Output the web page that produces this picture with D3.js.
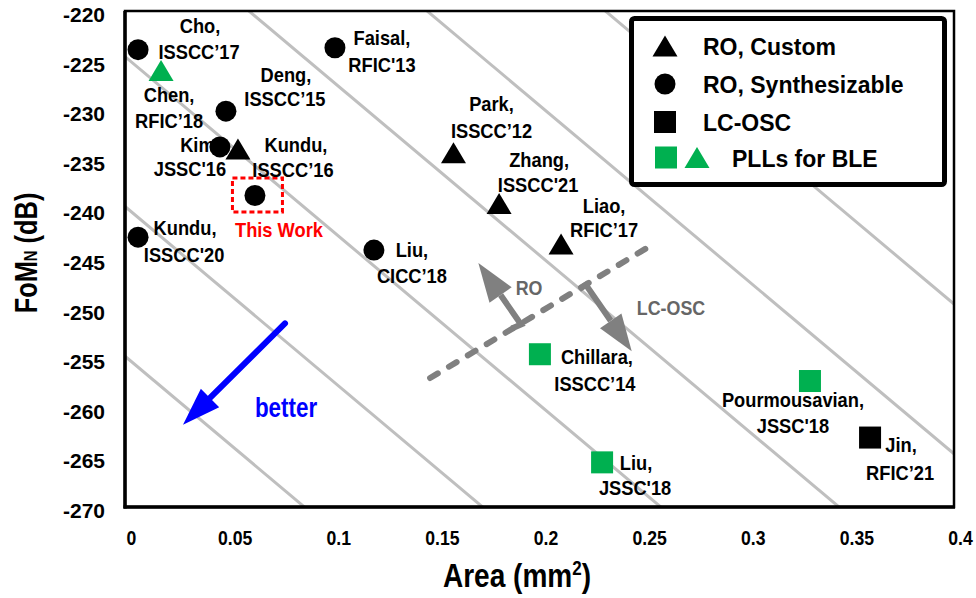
<!DOCTYPE html>
<html>
<head>
<meta charset="utf-8">
<script src="https://cdn.jsdelivr.net/npm/d3@7"></script>
<style>
  body { margin: 0; background: #fff; }
  svg { display: block; }
  text { font-family: "Liberation Sans", Arial, Helvetica, sans-serif; font-weight: bold; }
</style>
</head>
<body>
<svg id="chart" width="976" height="598"></svg>
<script>
// ---- Survey of oscillators / PLLs: normalized FoM vs. core area ----
const refNames  = ["Cho", "Chen", "Faisal", "Deng", "Kim", "Kundu", "This Work", "Kundu",
                   "Liu", "Park", "Zhang", "Liao", "Chillara", "Liu", "Pourmousavian", "Jin"];
const refVenues = ["ISSCC\u201917", "RFIC\u201918", "RFIC'13", "ISSCC\u201915", "JSSC'16", "ISSCC\u201916", "",
                   "ISSCC'20", "CICC\u201918", "ISSCC\u201912", "ISSCC'21", "RFIC\u201917", "ISSCC\u201914",
                   "JSSC'18", "JSSC'18", "RFIC\u201921"];
// oscillator class of each reference
const refClass  = ["roSynth", "bleTri", "roSynth", "roSynth", "roSynth", "roCustom", "roSynth", "roSynth",
                   "roSynth", "roCustom", "roCustom", "roCustom", "bleSq", "bleSq", "bleSq", "lcOsc"];
const refArea   = [0.0063, 0.0174, 0.1013, 0.0487, 0.0458, 0.0545, 0.0627, 0.0063,
                   0.1201, 0.1585, 0.1805, 0.2104, 0.2002, 0.2302, 0.3305, 0.3595];
const refFoM    = [-223.9, -226.0, -223.7, -230.1, -233.7, -233.9, -238.6, -242.8,
                   -244.1, -234.3, -239.4, -243.5, -254.6, -265.5, -257.3, -263.0];

const xTicks = [0, 0.05, 0.1, 0.15, 0.2, 0.25, 0.3, 0.35, 0.4];
const xTickLabels = ["0", "0.05", "0.1", "0.15", "0.2", "0.25", "0.3", "0.35", "0.4"];
const yTicks = [-220, -225, -230, -235, -240, -245, -250, -255, -260, -265, -270];

// constant-figure-of-merit guide lines: FoM = intercept + slope * area
const guideIntercepts = [-254.8, -239.7, -224.6, -209.5, -194.4, -179.3];
const guideSlope = -175.6;

// RO / LC-OSC boundary and the "better" direction, in (area, FoM)
const boundaryLine = [[0.1472, -257.0], [0.2557, -243.4]];
const roArrow      = [[0.1866, -252.0], [0.1911, -251.6], [0.1705, -245.4]];
const lcArrow      = [[0.2192, -248.05], [0.2224, -247.6], [0.2445, -254.3]];
const betterArrow  = [[0.0772, -251.5], [0.0280, -261.7]];

const legendLabels = ["RO, Custom", "RO, Synthesizable", "LC-OSC", "PLLs for BLE"];

// ---- layout ----
const W = 976, H = 598;
const plot = { left: 125, right: 954, top: 11, bottom: 507 };
const GREEN = "#00b050", GRAY = "#808080", GUIDE = "#bfbfbf";

// label offsets from each marker: [dx1, dy1, dx2, dy2] (second line = venue)
const labelOffsets = [
  [62, -17, 61, 9], [8, 31, 8, 57], [47, -3, 47, 24], [60, -29, 59, -5],
  [-20, 5, -30, 29], [58, 3, 55, 28], [24, 41, 0, 0], [47, -2, 46, 25],
  [38, 7, 38, 33], [38, -42, 38, -15], [40, -36, 39, -11], [43, -31, 43, -7],
  [57, 10, 55, 37], [34, 8, 33, 33], [-17, 26, -17, 52], [31, 14, 30, 42]
];

const svg = d3.select("#chart");
const x = d3.scaleLinear().domain([0, 0.4]).range([plot.left, plot.right]);
const y = d3.scaleLinear().domain([-270, -220]).range([plot.bottom, plot.top]);

function addText(g, str, px, py, opt) {
  const o = Object.assign({ size: 21, fill: "#000", anchor: "middle", sx: 1, rot: 0 }, opt || {});
  const t = g.append("text")
    .attr("transform", `translate(${px},${py})` + (o.rot ? ` rotate(${o.rot})` : "") + ` scale(${o.sx},1)`)
    .attr("text-anchor", o.anchor)
    .attr("font-size", o.size)
    .attr("fill", o.fill);
  if (str !== null) t.text(str);
  return t;
}

// clip for the plotting area
svg.append("defs").append("clipPath").attr("id", "plotClip")
  .append("rect")
  .attr("x", plot.left).attr("y", plot.top)
  .attr("width", plot.right - plot.left).attr("height", plot.bottom - plot.top);

// ---- guide lines ----
const guides = svg.append("g").attr("clip-path", "url(#plotClip)");
guides.selectAll("line").data(guideIntercepts).join("line")
  .attr("x1", x(0)).attr("y1", b => y(b))
  .attr("x2", x(0.4)).attr("y2", b => y(b + guideSlope * 0.4))
  .attr("stroke", GUIDE).attr("stroke-width", 3);

// ---- axis frame ----
svg.append("rect")
  .attr("x", plot.left).attr("y", plot.top)
  .attr("width", plot.right - plot.left).attr("height", plot.bottom - plot.top)
  .attr("fill", "none").attr("stroke", "#000").attr("stroke-width", 2.5);
svg.append("line").attr("x1", plot.left).attr("x2", plot.left)
  .attr("y1", plot.top).attr("y2", plot.bottom + 1.5)
  .attr("stroke", "#000").attr("stroke-width", 3.5);
svg.append("line").attr("x1", plot.left - 1.5).attr("x2", plot.right + 1)
  .attr("y1", plot.bottom).attr("y2", plot.bottom)
  .attr("stroke", "#000").attr("stroke-width", 3.5);

// ---- tick labels ----
const axisG = svg.append("g");
yTicks.forEach(v => addText(axisG, String(v), 105, y(v) + 11, { size: 21, anchor: "end" }));
xTicks.forEach((v, i) => addText(axisG, xTickLabels[i], x(v) + 6.5, 545, { size: 21, sx: 0.84 }));

// axis titles
const xt = addText(axisG, null, 517, 587, { size: 33, sx: 0.85 });
xt.append("tspan").text("Area (mm");
xt.append("tspan").attr("font-size", 20).attr("dy", -12).text("2");
xt.append("tspan").attr("dy", 12).text(")");

const yt = addText(axisG, null, 37, 253, { size: 31, sx: 0.82, rot: -90 });
yt.append("tspan").text("FoM");
yt.append("tspan").attr("font-size", 18).text("N");
yt.append("tspan").text(" (dB)");

// ---- annotations: RO / LC boundary, direction arrows ----
const ann = svg.append("g");
ann.append("line")
  .attr("x1", x(boundaryLine[0][0])).attr("y1", y(boundaryLine[0][1]))
  .attr("x2", x(boundaryLine[1][0])).attr("y2", y(boundaryLine[1][1]))
  .attr("stroke", GRAY).attr("stroke-width", 6)
  .attr("stroke-dasharray", "9,13").attr("stroke-linecap", "round");

function arrow(g, pts, color, shaftW, headLen, headHalf, cap) {
  const p = pts.map(d => [x(d[0]), y(d[1])]);
  const tip = p[p.length - 1], prev = p[p.length - 2];
  const dx = tip[0] - prev[0], dy = tip[1] - prev[1];
  const L = Math.hypot(dx, dy), ux = dx / L, uy = dy / L;
  const base = [tip[0] - ux * headLen, tip[1] - uy * headLen];
  const shaft = p.slice(0, -1).concat([base]);
  g.append("path")
    .attr("d", d3.line()(shaft))
    .attr("fill", "none").attr("stroke", color).attr("stroke-width", shaftW)
    .attr("stroke-linecap", cap || "butt").attr("stroke-linejoin", "miter");
  const nx = -uy, ny = ux;
  g.append("path")
    .attr("d", d3.line()([tip,
      [base[0] + nx * headHalf, base[1] + ny * headHalf],
      [base[0] - nx * headHalf, base[1] - ny * headHalf]]) + "Z")
    .attr("fill", color);
}
arrow(ann, roArrow, GRAY, 6, 39, 13.5);
arrow(ann, lcArrow, GRAY, 6, 37, 13);
arrow(ann, betterArrow, "#0000ff", 6, 38, 13, "round");

addText(ann, "RO", 529, 295, { size: 21, sx: 0.85, fill: "#666" });
addText(ann, "LC-OSC", 671, 315, { size: 21, sx: 0.85, fill: "#666" });
addText(ann, "better", 286, 417, { size: 28, sx: 0.8, fill: "#0000ff" });

// ---- markers ----
const markerStyle = {
  roCustom: { shape: "tri", fill: "#000" },
  roSynth:  { shape: "circle", fill: "#000" },
  lcOsc:    { shape: "sq", fill: "#000" },
  bleSq:    { shape: "sq", fill: GREEN },
  bleTri:   { shape: "tri", fill: GREEN }
};
function drawMarker(g, shape, cx, cy, fill) {
  if (shape === "circle") {
    g.append("circle").attr("cx", cx).attr("cy", cy).attr("r", 10.5).attr("fill", fill);
  } else if (shape === "sq") {
    g.append("rect").attr("x", cx - 11).attr("y", cy - 11).attr("width", 22).attr("height", 22).attr("fill", fill);
  } else {
    g.append("path")
      .attr("d", `M${cx},${cy - 10.5}L${cx + 12.5},${cy + 10.5}L${cx - 12.5},${cy + 10.5}Z`)
      .attr("fill", fill);
  }
}
const marks = svg.append("g");
refArea.forEach((a, i) => {
  const s = markerStyle[refClass[i]];
  drawMarker(marks, s.shape, x(a), y(refFoM[i]), s.fill);
});

// highlight box around this work
const twIdx = refNames.indexOf("This Work");
marks.append("rect")
  .attr("x", x(refArea[twIdx]) - 22.5).attr("y", y(refFoM[twIdx]) - 17.5)
  .attr("width", 50).attr("height", 34)
  .attr("fill", "none").attr("stroke", "#ff0000").attr("stroke-width", 3)
  .attr("stroke-dasharray", "5,3");

// ---- point labels ----
const labels = svg.append("g");
refNames.forEach((n, i) => {
  const px = x(refArea[i]), py = y(refFoM[i]);
  const o = labelOffsets[i];
  if (refVenues[i] === "") {
    addText(labels, n, px + o[0], py + o[1], { size: 21, sx: 0.87, fill: "#ff0000" });
  } else {
    addText(labels, n + ",", px + o[0], py + o[1], { size: 21, sx: 0.87 });
    addText(labels, refVenues[i], px + o[2], py + o[3], { size: 21, sx: 0.87 });
  }
});

// ---- legend ----
const lg = svg.append("g");
lg.append("rect").attr("x", 631.5).attr("y", 18.5).attr("width", 313).attr("height", 166)
  .attr("rx", 3).attr("fill", "#fff").attr("stroke", "#000").attr("stroke-width", 5);
const legendRows = [46, 84, 122, 157.5];
drawMarker(lg, "tri", 665, legendRows[0], "#000");
drawMarker(lg, "circle", 665, legendRows[1], "#000");
drawMarker(lg, "sq", 665, legendRows[2], "#000");
drawMarker(lg, "sq", 666, legendRows[3], GREEN);
drawMarker(lg, "tri", 697, legendRows[3], GREEN);
const legendTextX = [703, 703, 703, 732];
legendLabels.forEach((t, i) =>
  addText(lg, t, legendTextX[i], legendRows[i] + 9, { size: 23, anchor: "start" }));
</script>
</body>
</html>
